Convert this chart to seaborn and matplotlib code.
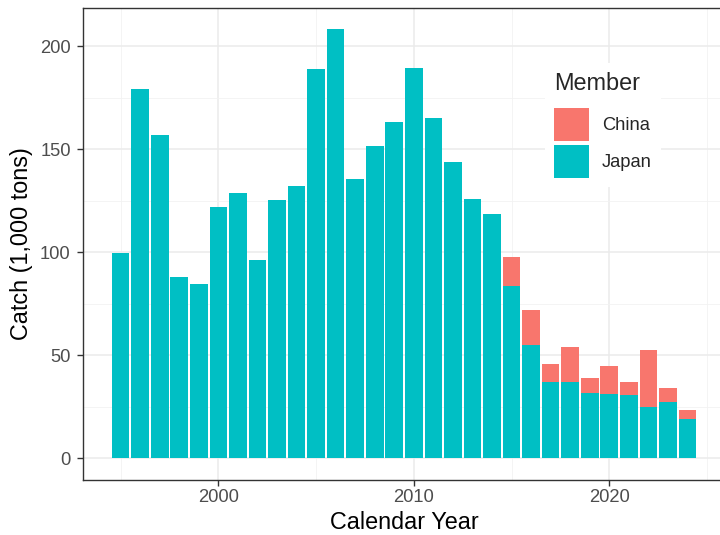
import matplotlib
matplotlib.use("Agg")
import matplotlib.pyplot as plt
import seaborn as sns
import pandas as pd
from matplotlib.patches import Patch
from matplotlib.ticker import MultipleLocator, FuncFormatter

# Annual catch by member, thousand tons
years = list(range(1995, 2025))
japan = [99.5, 179.1, 156.9, 87.7, 84.6, 121.8, 128.6, 96.3, 125.1, 132.2,
         188.8, 208.4, 135.4, 151.3, 163.4, 189.3, 165.3, 144.0, 126.0, 118.7,
         83.6, 54.7, 36.7, 37.0, 31.5, 31.0, 30.4, 24.9, 27.0, 19.1]
china = [0.0] * 20 + [14.1, 17.3, 9.2, 16.7, 7.3, 13.8, 6.3, 27.5, 7.0, 4.3]
members = ["China", "Japan"]

CHINA_COLOR = "#F8766D"
JAPAN_COLOR = "#00BFC4"

df = pd.DataFrame({"Year": years, "Japan": japan, "China": china})
df["Total"] = df["Japan"] + df["China"]

sns.set_theme(style="white")
plt.rcParams["font.family"] = ["Liberation Sans", "DejaVu Sans"]

fig = plt.figure(figsize=(7.2, 5.35), dpi=100)
ax = fig.add_axes([82.5 / 720, 1 - 479.5 / 535, (725.6 - 82.5) / 720, (479.5 - 7.5) / 535])

# Grid (drawn under the bars)
ax.set_axisbelow(True)

# Stacked bars: full total in China colour, Japan share drawn over it
sns.barplot(data=df, x="Year", y="Total", native_scale=True, color=CHINA_COLOR,
            saturation=1, width=0.9, errorbar=None, linewidth=0, ax=ax)
sns.barplot(data=df, x="Year", y="Japan", native_scale=True, color=JAPAN_COLOR,
            saturation=1, width=0.9, errorbar=None, linewidth=0, ax=ax)

ax.set_xlim(1993.05, 2025.95)
ax.set_ylim(-10.42, 218.8)
ax.xaxis.set_major_locator(MultipleLocator(10))
ax.xaxis.set_minor_locator(MultipleLocator(5))
ax.yaxis.set_major_locator(MultipleLocator(50))
ax.yaxis.set_minor_locator(MultipleLocator(25))
ax.xaxis.set_major_formatter(FuncFormatter(lambda v, p: f"{int(v)}"))
ax.yaxis.set_major_formatter(FuncFormatter(lambda v, p: f"{int(v)}"))
ax.grid(which="major", color="#EBEBEB", linewidth=1.1)
ax.grid(which="minor", color="#F2F2F2", linewidth=0.6)

for s in ax.spines.values():
    s.set_color("#333333")
    s.set_linewidth(1.0)

ax.tick_params(which="major", length=4, width=1, color="#333333",
               labelsize=13.2, labelcolor="#4D4D4D")
ax.tick_params(axis="x", which="major", pad=2.5, bottom=True)
ax.tick_params(axis="y", which="major", pad=4.5, left=True)
ax.tick_params(which="minor", length=0)

ax.set_xlabel("Calendar Year", fontsize=16.8, color="black", labelpad=4)
ax.set_ylabel("Catch (1,000 tons)", fontsize=16.8, color="black", labelpad=5)

handles = [Patch(facecolor=CHINA_COLOR, edgecolor="none"),
           Patch(facecolor=JAPAN_COLOR, edgecolor="none")]
leg = fig.legend(handles, members, title="Member", loc="upper left",
                 bbox_to_anchor=(536 / 720, 1 - 54 / 535), frameon=True,
                 fontsize=13.2, title_fontsize=16.9, handlelength=1.9,
                 handleheight=2.4, handletextpad=0.7, labelspacing=0.2,
                 borderpad=0.5, alignment="left")
leg._legend_box.sep = 9
leg.get_frame().set_facecolor("white")
leg.get_frame().set_edgecolor("none")
leg.get_frame().set_alpha(1)

fig.savefig("out.png", dpi=100)
